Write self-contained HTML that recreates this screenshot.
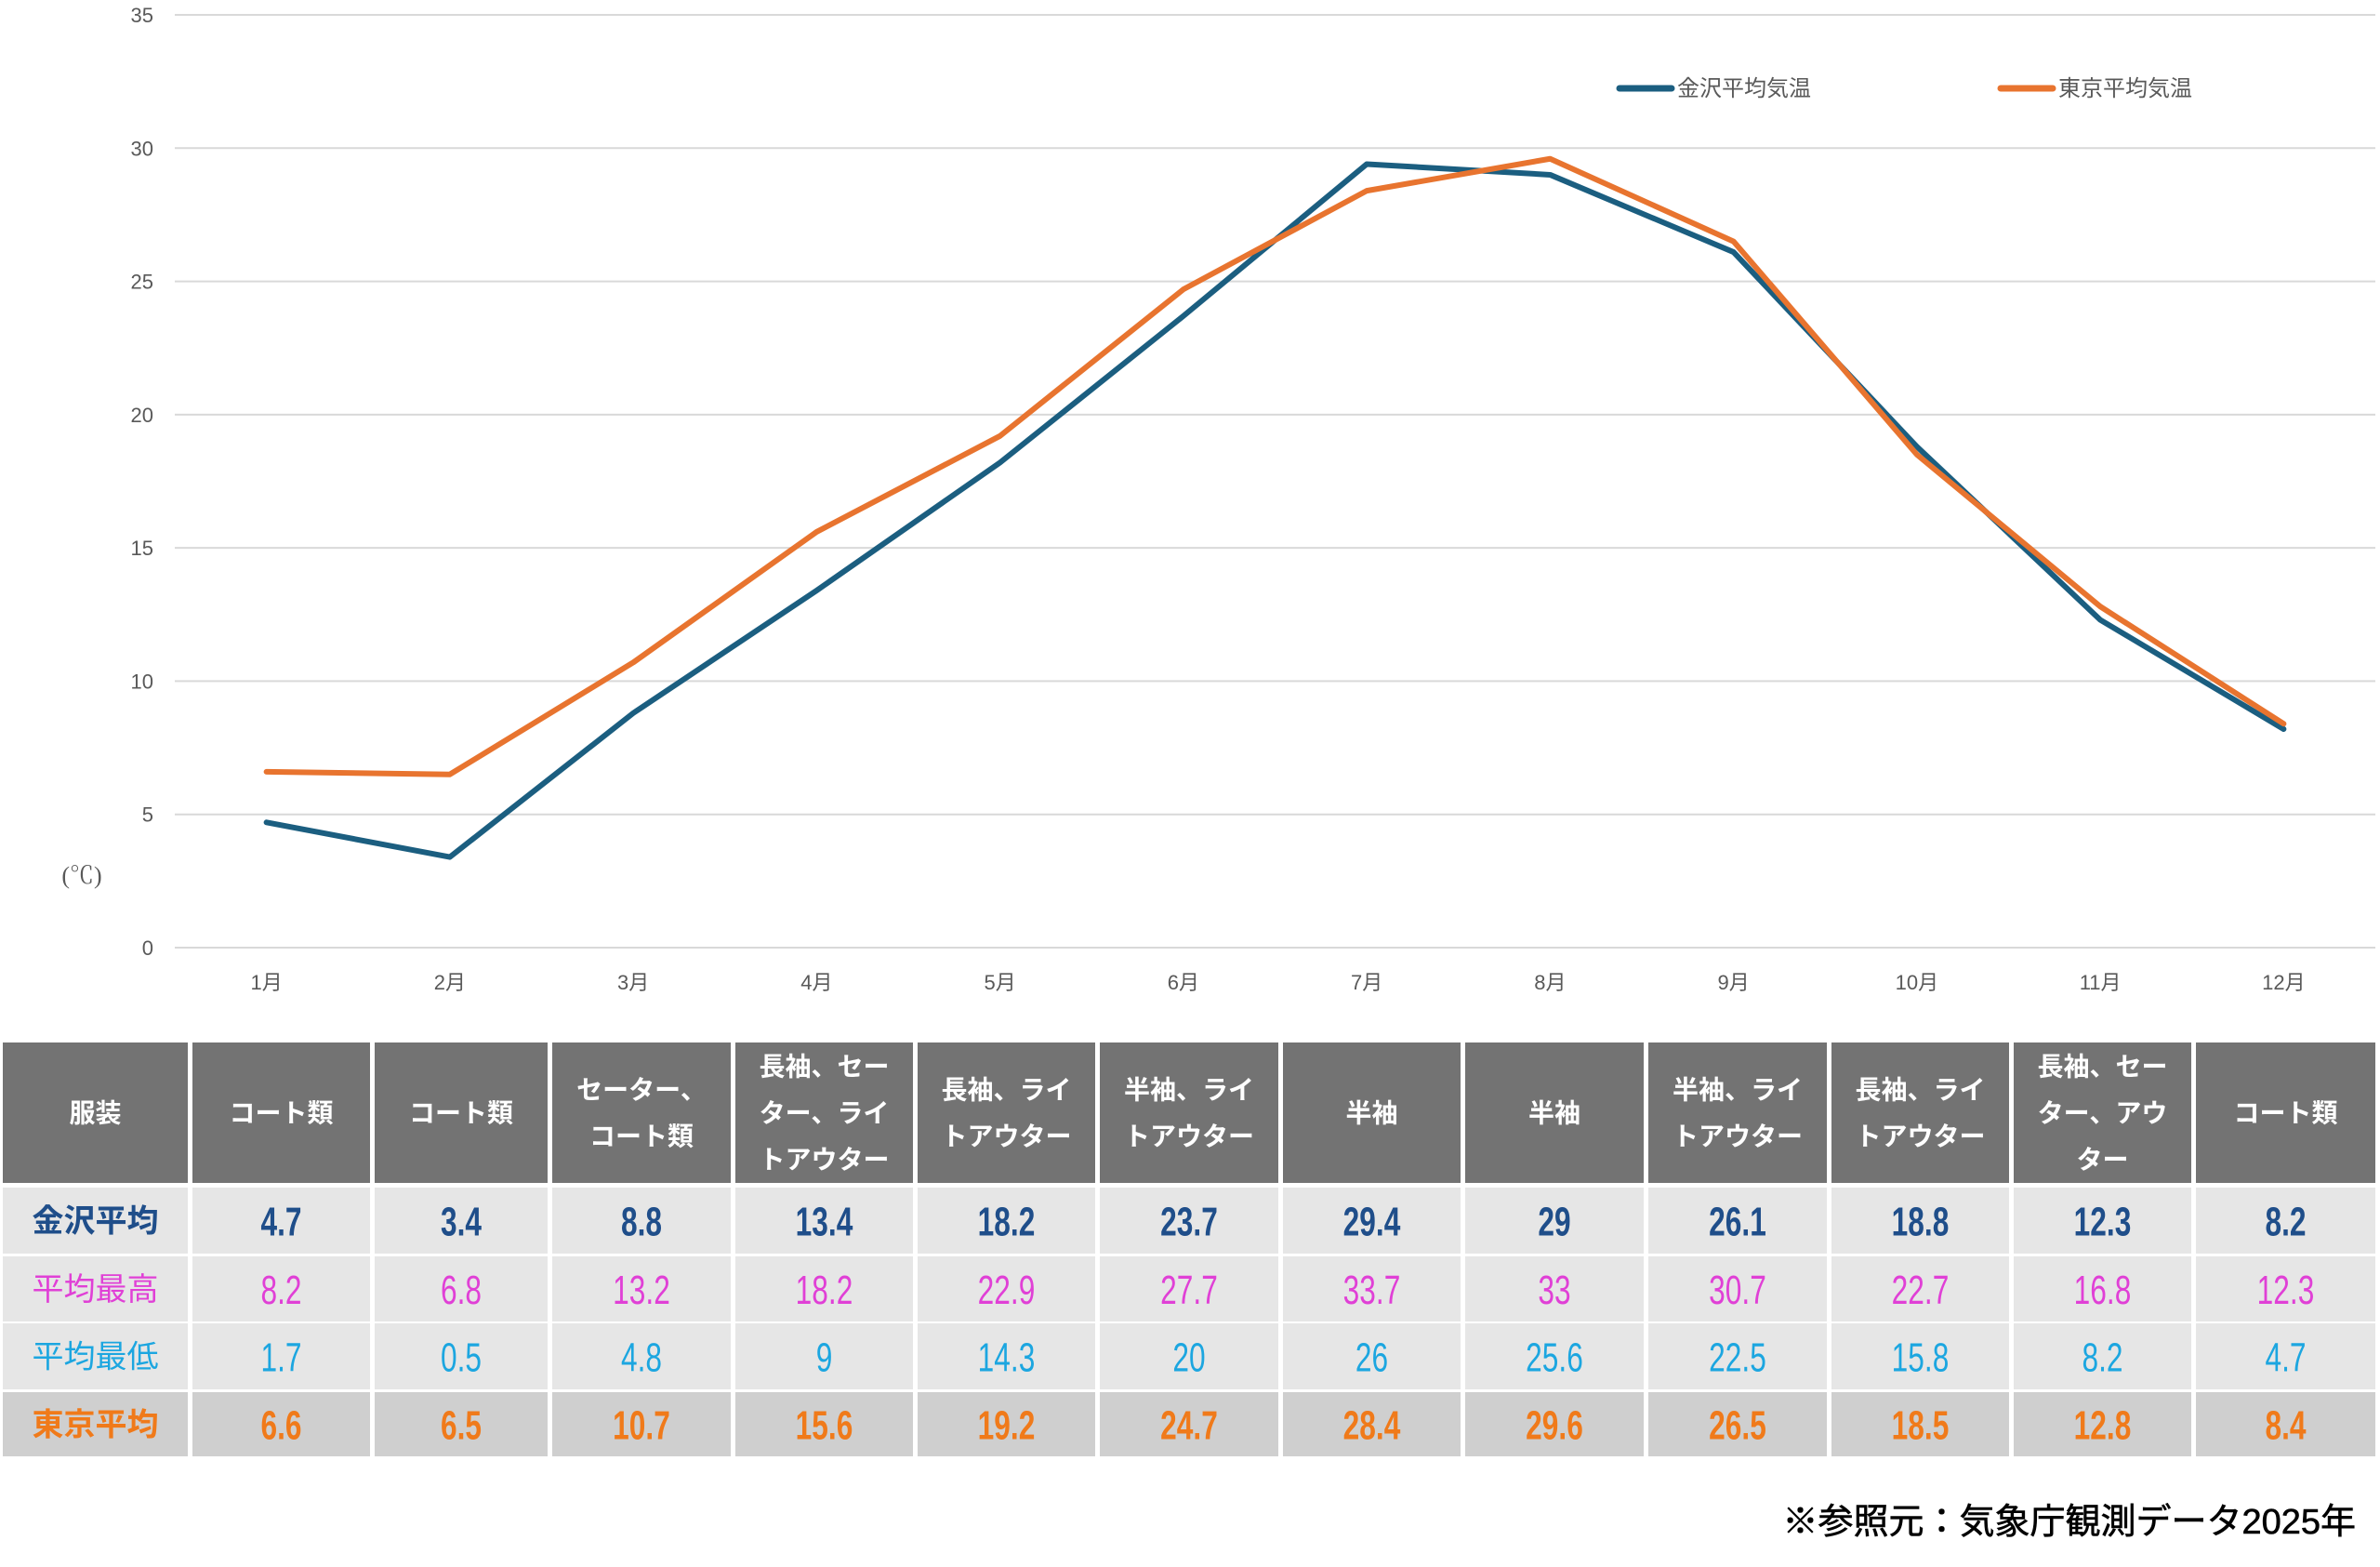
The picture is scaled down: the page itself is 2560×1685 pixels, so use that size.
<!DOCTYPE html>
<html><head><meta charset="utf-8"><style>
html,body{margin:0;padding:0;background:#fff;}
body{width:2560px;height:1685px;overflow:hidden;position:relative;font-family:"Liberation Sans","Noto Sans CJK JP",sans-serif;}
svg{position:absolute;left:0;top:0;}
</style></head><body>
<svg id="chart" width="2560" height="1685" viewBox="0 0 2560 1685" xmlns="http://www.w3.org/2000/svg"></svg>
<script>
const months = ["1月","2月","3月","4月","5月","6月","7月","8月","9月","10月","11月","12月"];
const kanazawaAvg = [4.7,3.4,8.8,13.4,18.2,23.7,29.4,29,26.1,18.8,12.3,8.2];
const kanazawaMax = [8.2,6.8,13.2,18.2,22.9,27.7,33.7,33,30.7,22.7,16.8,12.3];
const kanazawaMin = [1.7,0.5,4.8,9,14.3,20,26,25.6,22.5,15.8,8.2,4.7];
const tokyoAvg = [6.6,6.5,10.7,15.6,19.2,24.7,28.4,29.6,26.5,18.5,12.8,8.4];
const clothing = [["コート類"],["コート類"],["セーター、","コート類"],["長袖、セー","ター、ライ","トアウター"],["長袖、ライ","トアウター"],["半袖、ライ","トアウター"],["半袖"],["半袖"],["半袖、ライ","トアウター"],["長袖、ライ","トアウター"],["長袖、セー","ター、アウ","ター"],["コート類"]];
const yTicks = [0,5,10,15,20,25,30,35];

const NS="http://www.w3.org/2000/svg";
const svg=document.getElementById('chart');
function mk(tag,attrs,parent){const e=document.createElementNS(NS,tag);for(const k in attrs)e.setAttribute(k,attrs[k]);(parent||svg).appendChild(e);return e;}
const plotL=188,plotR=2555,y0=1019,y35=16;
const yScale=v=>y0-(v/35)*(y0-y35);
const band=(plotR-plotL)/months.length;
const xScale=i=>plotL+band*(i+0.5);
const CJK='"Liberation Sans","Noto Sans CJK JP",sans-serif';

yTicks.forEach(t=>{
  const g=mk('line',{x1:plotL,x2:plotR,y1:yScale(t),y2:yScale(t),stroke:'#d9d9d9','stroke-width':2});
  
  
  const tx=mk('text',{x:165,y:yScale(t)+8,'text-anchor':'end','font-size':22,fill:'#595959','font-family':CJK});
  tx.textContent=t;
  
  
});
const unit=mk('text',{x:88,y:950,'text-anchor':'middle','font-size':26,fill:'#595959','font-family':'"Liberation Serif","Noto Serif CJK SC",serif'});
unit.textContent='(℃)';



months.forEach((m,i)=>{
  const t=mk('text',{x:xScale(i),y:1064,'text-anchor':'middle','font-size':22,fill:'#595959','font-family':CJK});
  t.textContent=m;
  
  
});

function series(vals,color,name){
  const p=mk('polyline',{points:vals.map((v,i)=>xScale(i)+','+yScale(v)).join(' '),fill:'none',stroke:color,'stroke-width':6,'stroke-linejoin':'round','stroke-linecap':'round'});
  
  
}
series(kanazawaAvg,'#1b5e80','kanazawa-line');
series(tokyoAvg,'#e8742f','tokyo-line');

[[1742,'#1b5e80','金沢平均気温','legend-kanazawa'],[2152,'#e8742f','東京平均気温','legend-tokyo']].forEach(([x,c,label,n])=>{
  const g=mk('g',{});
  
  
  mk('line',{x1:x,x2:x+56,y1:95,y2:95,stroke:c,'stroke-width':7,'stroke-linecap':'round'},g);
  const t=mk('text',{x:x+62,y:103,'font-size':24,fill:'#595959','font-family':CJK},g);
  t.textContent=label;
});

const colX=[0,207,403,594,791,987,1183,1380,1576,1773,1970,2166,2362,2560];
const rows=[[1121,1272],[1277,1348],[1351,1421],[1423,1494],[1497,1566]];
const rowBg=['#737373','#e6e6e6','#e6e6e6','#e6e6e6','#cfcfcf'];
const rowLabels=['服装','金沢平均','平均最高','平均最低','東京平均'];
const rowColors=['#ffffff','#1f4e8a','#e040d6','#1ca6e0','#f07a1a'];
const rowWeights=['bold','bold','normal','normal','bold'];
const rowData=[null,kanazawaAvg,kanazawaMax,kanazawaMin,tokyoAvg];
const rowNames=['clothing-row','kanazawa-avg-row','kanazawa-max-row','kanazawa-min-row','tokyo-avg-row'];
rows.forEach(([top,bot],r)=>{
  for(let c=0;c<13;c++){
    const x=colX[c]+(c===0?3:0);
    const w=(c===12?2555-x:colX[c+1]-5-x);
    const rect=mk('rect',{x:x,y:top,width:w,height:bot-top,fill:rowBg[r]});
    
    
    const cx=x+w/2, cy=(top+bot)/2;
    let lines;
    if(c===0) lines=[rowLabels[r]];
    else if(r===0) lines=clothing[c-1];
    else lines=[String(rowData[r][c-1])];
    const isNum=(r>0&&c>0);
    const fs = r===0?28:(c===0?34:44);
    const lh = 50;
    lines.forEach((ln,k)=>{
      const ty=cy+(k-(lines.length-1)/2)*lh+fs*0.36;
      const attrs={x:isNum?0:cx,y:isNum?0:ty,'text-anchor':'middle','font-size':fs,'font-weight':rowWeights[r],fill:rowColors[r],'font-family':CJK};
      if(isNum) attrs.transform='translate('+cx+','+ty+') scale(0.72,1)';
      const t=mk('text',attrs);
      t.textContent=ln;
      
      
    });
  }
});

const src=mk('text',{x:2534,y:1649,'text-anchor':'end','font-size':38,fill:'#000','font-family':CJK,stroke:'#000','stroke-width':0.6});
src.textContent='※参照元：気象庁観測データ2025年';


</script>
</body></html>
